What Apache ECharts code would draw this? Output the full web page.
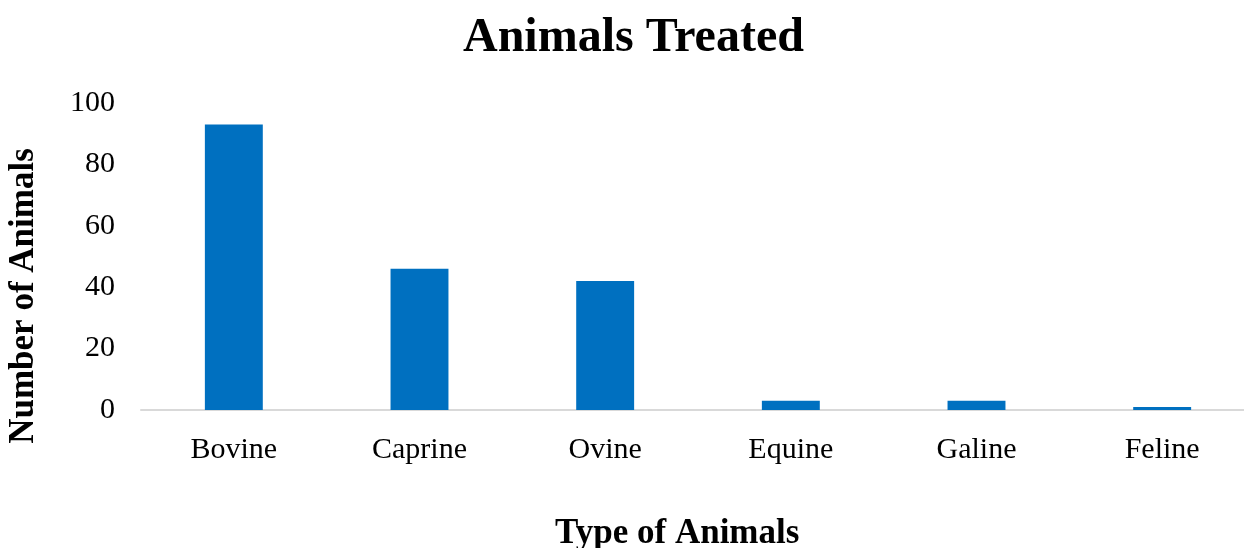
<!DOCTYPE html>
<html>
<head>
<meta charset="utf-8">
<script src="https://cdn.jsdelivr.net/npm/echarts@6/dist/echarts.min.js"></script>
<style>
  html, body { margin: 0; padding: 0; background: #ffffff; }
  #chart { width: 1244px; height: 548px; }
</style>
</head>
<body>
<div id="chart"></div>
<script>
// Animals treated, by type
const categories = ['Bovine', 'Caprine', 'Ovine', 'Equine', 'Galine', 'Feline'];
const animalCounts = [93, 46, 42, 3, 3, 1];
const yTicks = [0, 20, 40, 60, 80, 100];

const serif = '"Liberation Serif", "Times New Roman", serif';

const chart = echarts.init(document.getElementById('chart'), null, { renderer: 'canvas' });

chart.setOption({
  backgroundColor: '#ffffff',
  animation: false,
  title: {
    text: 'Animals Treated',
    left: 458,
    top: 10,
    textStyle: { fontFamily: serif, fontWeight: 'bold', fontSize: 48, color: '#000000' }
  },
  // plot area runs past the right edge of the canvas
  grid: { left: 141, right: -11, top: 103, bottom: 138, outerBoundsMode: 'none', containLabel: false },
  xAxis: {
    type: 'category',
    data: categories,
    axisLine: { show: true, lineStyle: { color: '#d9d9d9', width: 2 } },
    axisTick: { show: false },
    axisLabel: { fontFamily: serif, fontSize: 30, color: '#000000', margin: 25 }
  },
  yAxis: {
    type: 'value',
    min: yTicks[0],
    max: yTicks[yTicks.length - 1],
    interval: yTicks[1] - yTicks[0],
    axisLine: { show: false },
    axisTick: { show: false },
    splitLine: { show: false },
    axisLabel: { fontFamily: serif, fontSize: 30, color: '#000000', margin: 26 }
  },
  graphic: [
    {
      type: 'text',
      left: 555,
      top: 516,
      style: { text: 'Type of Animals', font: 'bold 35px ' + serif, fill: '#000000' }
    },
    {
      type: 'text',
      x: 24,
      y: 296,
      rotation: Math.PI / 2,
      style: {
        text: 'Number of Animals',
        font: 'bold 35px ' + serif,
        fill: '#000000',
        align: 'center',
        verticalAlign: 'middle'
      }
    }
  ],
  series: [{
    type: 'bar',
    data: animalCounts,
    barWidth: '31.2%',
    itemStyle: { color: '#0070C0' }
  }]
});
</script>
</body>
</html>
